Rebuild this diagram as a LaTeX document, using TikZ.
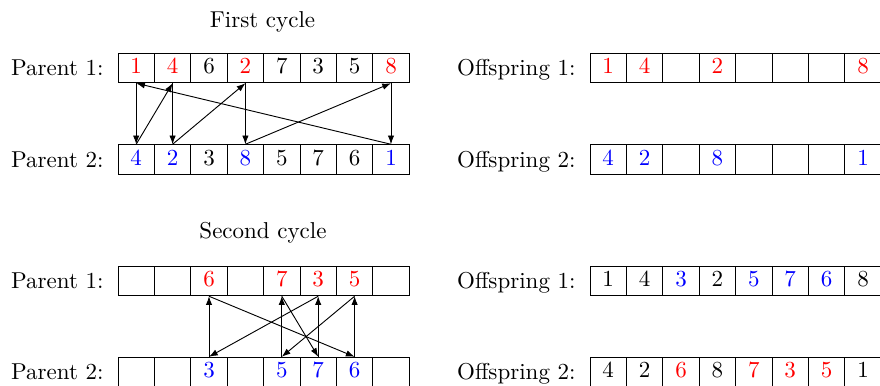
\documentclass[tikz,border=0pt]{standalone}
\usetikzlibrary{arrows.meta}
\newcommand\Rd[1]{\textcolor{red}{#1}}
\newcommand\Bl[1]{\textcolor{blue}{#1}}
\begin{document}
\begin{tikzpicture}[x=0.435pt,y=-0.435pt,
  cell/.style={draw,line width=0.4pt,minimum width=15.83pt,minimum height=12.85pt,inner sep=0pt,font=\strut},
  lbl/.style={anchor=base east,inner sep=0pt},
  ttl/.style={anchor=base,inner sep=0pt},
  arr/.style={-{Latex[length=3.8pt,width=2.8pt]},line width=0.4pt}]
\clip (0,0) rectangle (880,385);
\fill[white] (0,0) rectangle (880,385);
% titles
\node[ttl] (t1) at (262.5,27) {First cycle};
\node[ttl] (t2) at (263,238) {Second cycle};
% labels
\node[lbl] (la) at (104,75.4) {Parent 1:};
\node[lbl] (lb) at (104,167) {Parent 2:};
\node[lbl] (lc) at (576,75.4) {Offspring 1:};
\node[lbl] (ld) at (576,167) {Offspring 2:};
\node[lbl] (le) at (104,288.4) {Parent 1:};
\node[lbl] (lf) at (104,379.4) {Parent 2:};
\node[lbl] (lg) at (576,288.4) {Offspring 1:};
\node[lbl] (lh) at (576,379.4) {Offspring 2:};
% cells
\foreach \t [count=\i] in {\Rd{1},\Rd{4},6,\Rd{2},7,3,5,\Rd{8}}
  \node[cell] (a\i) at ({118+36.4*(\i-0.5)},68) {\t};
\foreach \t [count=\i] in {\Bl{4},\Bl{2},3,\Bl{8},5,7,6,\Bl{1}}
  \node[cell] (b\i) at ({118+36.4*(\i-0.5)},159.5) {\t};
\foreach \t [count=\i] in {\Rd{1},\Rd{4},{},\Rd{2},{},{},{},\Rd{8}}
  \node[cell] (c\i) at ({590+36.4*(\i-0.5)},68) {\t};
\foreach \t [count=\i] in {\Bl{4},\Bl{2},{},\Bl{8},{},{},{},\Bl{1}}
  \node[cell] (d\i) at ({590+36.4*(\i-0.5)},159.5) {\t};
\foreach \t [count=\i] in {{},{},\Rd{6},{},\Rd{7},\Rd{3},\Rd{5},{}}
  \node[cell] (e\i) at ({118+36.4*(\i-0.5)},281) {\t};
\foreach \t [count=\i] in {{},{},\Bl{3},{},\Bl{5},\Bl{7},\Bl{6},{}}
  \node[cell] (f\i) at ({118+36.4*(\i-0.5)},372) {\t};
\foreach \t [count=\i] in {1,4,\Bl{3},2,\Bl{5},\Bl{7},\Bl{6},8}
  \node[cell] (g\i) at ({590+36.4*(\i-0.5)},281) {\t};
\foreach \t [count=\i] in {4,2,\Rd{6},8,\Rd{7},\Rd{3},\Rd{5},1}
  \node[cell] (h\i) at ({590+36.4*(\i-0.5)},372) {\t};
% first cycle arrows
\draw[arr] (a1.south) -- (b1.north);
\draw[arr] (b1.north) -- (a2.south);
\draw[arr] (a2.south) -- (b2.north);
\draw[arr] (b2.north) -- (a4.south);
\draw[arr] (a4.south) -- (b4.north);
\draw[arr] (b4.north) -- (a8.south);
\draw[arr] (a8.south) -- (b8.north);
\draw[arr] (b8.north) -- (a1.south);
% second cycle arrows
\draw[arr] (f3.north) -- (e3.south);
\draw[arr] (e3.south) -- (f7.north);
\draw[arr] (f7.north) -- (e7.south);
\draw[arr] (e7.south) -- (f5.north);
\draw[arr] (f5.north) -- (e5.south);
\draw[arr] (e5.south) -- (f6.north);
\draw[arr] (f6.north) -- (e6.south);
\draw[arr] (e6.south) -- (f3.north);
\end{tikzpicture}
\end{document}
